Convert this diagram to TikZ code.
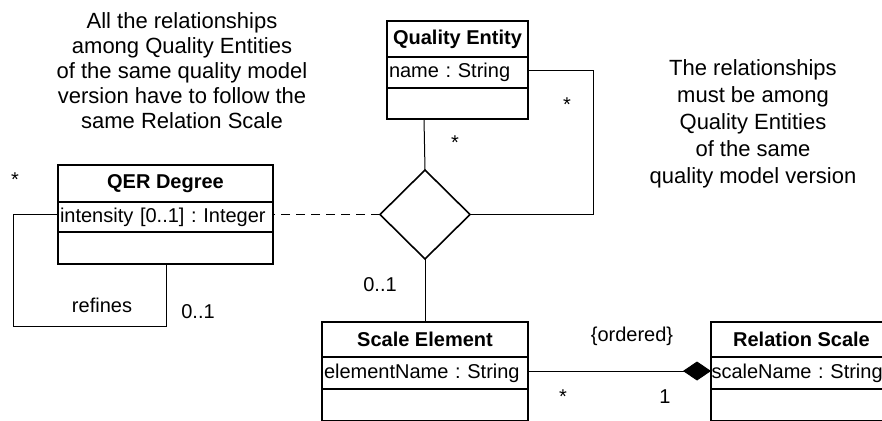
\documentclass[tikz,border=0pt]{standalone}
\usepackage{fontspec}
\setmainfont{Liberation Sans}
\usetikzlibrary{shapes.geometric,arrows.meta,calc}
\frenchspacing
\begin{document}
\begin{tikzpicture}[x=1pt,y=-1pt,
  box/.style={draw, line width=1.6pt, inner sep=0pt, outer sep=0pt, anchor=north west,
    font=\fontsize{20}{24}\selectfont},
  hdr/.style n args={2}{box, minimum width=#1, minimum height=#2,
    font=\fontsize{20}{24}\selectfont\bfseries},
  attr/.style n args={2}{box, text width=#1, minimum height=#2, align=left, inner xsep=2pt},
  ops/.style n args={2}{box, minimum width=#1, minimum height=#2},
  conn/.style={line width=1pt},
  lbl/.style={font=\fontsize{20}{24}\selectfont, inner sep=0pt, anchor=base},
  note/.style={inner sep=0pt, anchor=north, align=center}]
\useasboundingbox (0,0) rectangle (882,420);
\fill[white] (0,0) rectangle (882,420);
\clip (0,0) rectangle (882,420);

% Quality Entity
\node[hdr={141pt}{36pt}] (qeH) at (387,21) {Quality Entity};
\node[attr={137pt}{31pt}] (qeA) at (387,57) {name : String};
\node[ops={141pt}{31pt}] (qeO) at (387,88) {};

% QER Degree
\node[hdr={215pt}{37pt}] (qerH) at (58,165) {QER Degree};
\node[attr={211pt}{30pt}] (qerA) at (58,202) {intensity [0..1] : Integer};
\node[ops={215pt}{32pt}] (qerO) at (58,232) {};

% Scale Element
\node[hdr={206pt}{35pt}] (seH) at (322,322) {Scale Element};
\node[attr={202pt}{32pt}] (seA) at (322,357) {elementName : String};
\node[ops={206pt}{32pt}] (seO) at (322,389) {};

% Relation Scale
\node[hdr={181pt}{35pt}] (rsH) at (711,322) {Relation Scale};
\node[attr={180pt}{32pt}, inner xsep=0.5pt] (rsA) at (711,357) {scaleName : String};
\node[ops={181pt}{32pt}] (rsO) at (711,389) {};

% association diamond
\node[draw, diamond, line width=1.6pt, minimum width=90pt, minimum height=89pt,
  inner sep=0pt, outer sep=0pt, fill=white] (dia) at (425,214.5) {};

% connectors
\draw[conn] ([xshift=37pt]qeO.south west) -- (dia.north);
\draw[conn] (dia.east) -| ([xshift=65pt,yshift=2.5pt]qeA.east) -- ([yshift=2.5pt]qeA.east);
\draw[conn, dash pattern=on 9pt off 6pt] (dia.west) -- (dia.west -| qerA.east);
\draw[conn] (dia.south) -- (seH.north);
\coordinate (lp) at (166,326);
\draw[conn] (qerA.west |- dia.west) -- ++(-45,0) |- (lp) -- (lp |- qerO.south);
\draw[conn, -{Diamond[length=28pt,width=19pt]}] ([yshift=2pt]seA.east) -- ([yshift=2pt]rsA.west);

% notes
\node[note, font=\fontsize{22}{25}\selectfont] (n1) at (182,12)
  {All the relationships\\among Quality Entities\\of the same quality model\\version have to follow the\\same Relation Scale};
\node[note, font=\fontsize{22}{27}\selectfont] (n2) at (753,59)
  {The relationships\\must be among\\Quality Entities\\of the same\\quality model version};

% labels
\node[lbl] (m1) at (15,186) {*};
\node[lbl] (m2) at (455,149) {*};
\node[lbl] (m3) at (567,111) {*};
\node[lbl] (m4) at (563,403) {*};
\node[lbl] (m5) at (665,403) {1};
\node[lbl] (rf) at (102,312) {refines};
\node[lbl] (m6) at (198,318) {0..1};
\node[lbl] (m7) at (380,291) {0..1};
\node[lbl] (ord) at (632,341) {\{ordered\}};
\end{tikzpicture}
\end{document}
